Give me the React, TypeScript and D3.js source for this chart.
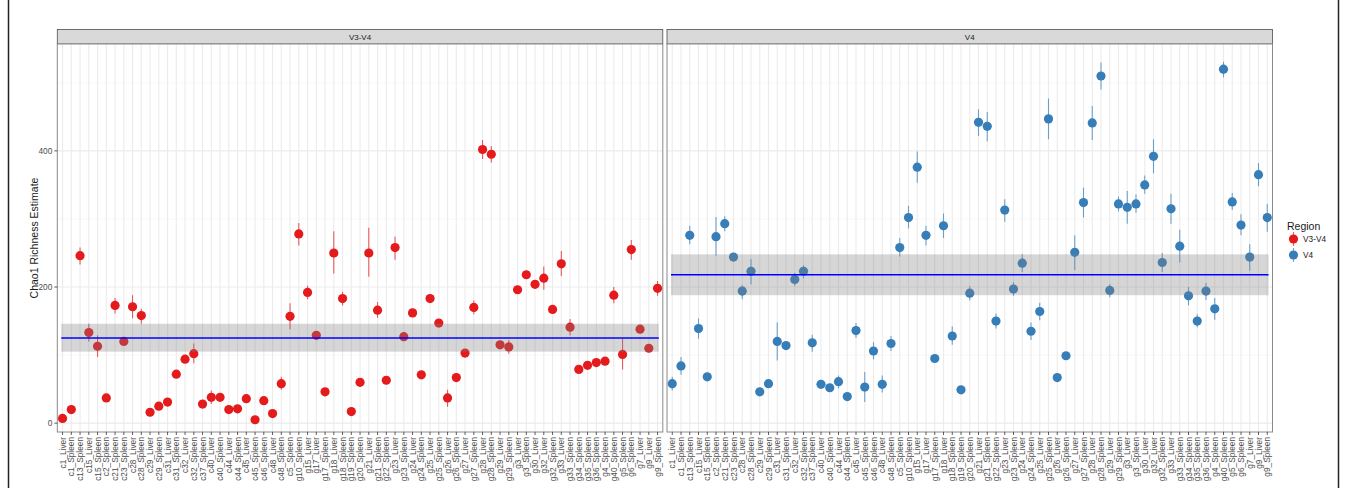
import * as d3 from 'd3';

const categories = ['c1_Liver', 'c1_Spleen', 'c13_Spleen', 'c15_Liver', 'c15_Spleen', 'c2_Spleen', 'c21_Spleen', 'c23_Spleen', 'c28_Liver', 'c28_Spleen', 'c29_Liver', 'c29_Spleen', 'c31_Liver', 'c31_Spleen', 'c32_Liver', 'c32_Spleen', 'c37_Spleen', 'c40_Liver', 'c40_Spleen', 'c44_Liver', 'c44_Spleen', 'c45_Liver', 'c45_Spleen', 'c46_Spleen', 'c48_Liver', 'c48_Spleen', 'c5_Spleen', 'g10_Spleen', 'g15_Liver', 'g17_Liver', 'g17_Spleen', 'g18_Liver', 'g18_Spleen', 'g19_Spleen', 'g20_Spleen', 'g21_Liver', 'g21_Spleen', 'g22_Spleen', 'g23_Liver', 'g23_Spleen', 'g24_Liver', 'g24_Spleen', 'g25_Liver', 'g25_Spleen', 'g26_Liver', 'g26_Spleen', 'g27_Liver', 'g27_Spleen', 'g28_Liver', 'g28_Spleen', 'g29_Liver', 'g29_Spleen', 'g3_Liver', 'g3_Spleen', 'g30_Liver', 'g32_Liver', 'g32_Spleen', 'g33_Liver', 'g33_Spleen', 'g34_Spleen', 'g35_Spleen', 'g36_Spleen', 'g4_Spleen', 'g40_Spleen', 'g5_Spleen', 'g6_Spleen', 'g7_Liver', 'g9_Liver', 'g9_Spleen'];

// V3-V4 region: estimate, lower, upper
const v34Est = [7, 20, 246, 133, 113, 37, 173, 120, 171, 158, 16, 25, 31, 72, 94, 102, 28, 38, 38, 20, 21, 36, 5, 33, 14, 58, 157, 278, 192, 129, 46, 250, 183, 17, 60, 250, 166, 63, 258, 127, 162, 71, 183, 147, 37, 67, 103, 170, 402, 395, 115, 112, 196, 218, 204, 213, 167, 234, 141, 79, 85, 89, 91, 188, 101, 255, 138, 110, 198];
const v34Lo = [4, 17, 233, 120, 97, 34, 161, 115, 154, 146, 13, 22, 28, 69, 91, 88, 25, 28, 35, 17, 18, 33, 2, 30, 11, 49, 138, 261, 182, 126, 43, 220, 173, 14, 57, 215, 155, 60, 240, 124, 159, 68, 180, 144, 24, 64, 100, 160, 388, 383, 112, 102, 193, 215, 201, 196, 164, 216, 129, 76, 82, 86, 88, 176, 79, 240, 135, 107, 187];
const v34Hi = [10, 23, 258, 146, 129, 40, 184, 125, 188, 168, 19, 28, 34, 75, 97, 117, 31, 48, 41, 23, 24, 39, 8, 36, 17, 68, 176, 294, 202, 132, 49, 282, 193, 20, 63, 287, 178, 66, 274, 130, 165, 74, 186, 150, 49, 70, 106, 180, 416, 407, 118, 122, 199, 221, 207, 230, 170, 253, 153, 82, 88, 92, 94, 200, 124, 269, 141, 113, 209];

// V4 region
const v4Est = [58, 84, 276, 139, 68, 274, 293, 244, 194, 223, 46, 58, 120, 114, 211, 223, 118, 57, 52, 61, 39, 136, 53, 106, 57, 117, 258, 302, 376, 276, 95, 290, 128, 49, 191, 442, 436, 150, 313, 197, 235, 135, 164, 447, 67, 99, 251, 324, 441, 510, 195, 322, 317, 322, 350, 392, 236, 315, 260, 187, 150, 194, 168, 520, 325, 291, 244, 365, 302];
const v4Lo = [48, 71, 263, 124, 65, 246, 282, 241, 182, 204, 43, 55, 92, 111, 201, 213, 105, 54, 49, 51, 36, 125, 31, 94, 45, 106, 245, 286, 353, 261, 92, 272, 115, 46, 180, 422, 414, 139, 296, 187, 222, 122, 151, 417, 64, 96, 225, 302, 416, 490, 185, 311, 293, 309, 337, 367, 222, 293, 236, 173, 141, 181, 152, 508, 313, 276, 224, 348, 281];
const v4Hi = [68, 97, 290, 154, 71, 303, 304, 247, 203, 241, 49, 61, 148, 117, 221, 232, 130, 60, 55, 70, 42, 147, 75, 119, 70, 128, 272, 319, 399, 290, 98, 308, 142, 52, 201, 461, 457, 161, 329, 207, 248, 148, 177, 477, 70, 102, 276, 346, 466, 530, 204, 333, 341, 336, 364, 417, 250, 337, 284, 200, 160, 206, 184, 531, 338, 307, 263, 382, 322];

const regions = ['V3-V4', 'V4'];
const regionColors = ['#E41A1C', '#377EB8'];
// mean line and shaded band per region
const bandMean = [125, 218];
const bandLo = [105, 188];
const bandHi = [146, 248];

const yTicks = [0, 200, 400];
const yMinor = [100, 300, 500];

const W = 1346;
const H = 488;
const FONT = '"Liberation Sans", Arial, sans-serif';

const panelTop = 44;
const panelBottom = 432;
const panelLefts = [57.3, 667];
const panelW = 605.5;

export default function App() {
  const y = d3.scaleLinear().domain([-13, 557]).range([panelBottom, panelTop]);
  const series = [
    { est: v34Est, lo: v34Lo, hi: v34Hi },
    { est: v4Est, lo: v4Lo, hi: v4Hi },
  ];

  return (
    <svg width={W} height={H} style={{ position: 'absolute', left: 0, top: 0, background: '#fff' }} fontFamily={FONT}>
      <line x1={8.5} x2={8.5} y1={0} y2={H} stroke="#222" strokeWidth={1.5} />
      <line x1={1338.5} x2={1338.5} y1={0} y2={H} stroke="#222" strokeWidth={1.5} />

      {regions.map((reg, p) => {
        const x0 = panelLefts[p];
        const x = d3.scalePoint<string>().domain(categories).range([x0, x0 + panelW]).padding(0.6);
        const s = series[p];
        const col = regionColors[p];
        return (
          <g key={reg}>
            {/* strip */}
            <rect x={x0} y={29.5} width={panelW} height={panelTop - 29.5} fill="#D9D9D9" stroke="#4d4d4d" strokeWidth={0.8} />
            <text x={x0 + panelW / 2} y={40} textAnchor="middle" fontSize={8} fill="#1a1a1a">{reg}</text>
            {/* panel */}
            <rect x={x0} y={panelTop} width={panelW} height={panelBottom - panelTop} fill="#fff" />
            {yMinor.map(t => (
              <line key={'m' + t} x1={x0} x2={x0 + panelW} y1={y(t)} y2={y(t)} stroke="#F2F2F2" strokeWidth={0.6} />
            ))}
            {yTicks.map(t => (
              <line key={'M' + t} x1={x0} x2={x0 + panelW} y1={y(t)} y2={y(t)} stroke="#EBEBEB" strokeWidth={1.1} />
            ))}
            {categories.map(c => (
              <line key={'v' + c} x1={x(c)} x2={x(c)} y1={panelTop} y2={panelBottom} stroke="#EBEBEB" strokeWidth={1.1} />
            ))}
            {/* error bars */}
            {categories.map((c, i) => (
              <line key={'e' + c} x1={x(c)} x2={x(c)} y1={y(s.lo[i])} y2={y(s.hi[i])} stroke={col} strokeOpacity={0.7} strokeWidth={1.1} />
            ))}
            {/* points */}
            {categories.map((c, i) => (
              <circle key={'p' + c} cx={x(c)} cy={y(s.est[i])} r={4.6} fill={col} />
            ))}
            {/* band and mean */}
            <rect x={x0 + 4} y={y(bandHi[p])} width={panelW - 8} height={y(bandLo[p]) - y(bandHi[p])} fill="#7F7F7F" fillOpacity={0.32} />
            <line x1={x0 + 4} x2={x0 + panelW - 4} y1={y(bandMean[p])} y2={y(bandMean[p])} stroke="#0000FF" strokeWidth={1.6} />
            <rect x={x0} y={panelTop} width={panelW} height={panelBottom - panelTop} fill="none" stroke="#8a8a8a" strokeWidth={1} />
            {/* x axis */}
            {categories.map(c => (
              <g key={'t' + c}>
                <line x1={x(c)} x2={x(c)} y1={panelBottom} y2={panelBottom + 3} stroke="#333" strokeWidth={0.8} />
                <text transform={`translate(${x(c)! + 3},${panelBottom + 5}) rotate(-90)`} textAnchor="end" fontSize={8.3} fill="#4D4D4D">{c}</text>
              </g>
            ))}
          </g>
        );
      })}

      {/* y axis */}
      {yTicks.map(t => (
        <g key={'yt' + t}>
          <line x1={panelLefts[0] - 3} x2={panelLefts[0]} y1={y(t)} y2={y(t)} stroke="#333" strokeWidth={0.8} />
          <text x={panelLefts[0] - 5} y={y(t) + 3} textAnchor="end" fontSize={8.3} fill="#4D4D4D">{t}</text>
        </g>
      ))}
      <text transform={`translate(38,${(panelTop + panelBottom) / 2}) rotate(-90)`} textAnchor="middle" fontSize={10.5} fill="#1a1a1a">Chao1 Richness Estimate</text>

      {/* legend */}
      <text x={1287} y={230} fontSize={10.5} fill="#1a1a1a">Region</text>
      {regions.map((reg, i) => (
        <g key={'lg' + reg}>
          <line x1={1293.5} x2={1293.5} y1={232 + i * 16} y2={246 + i * 16} stroke={regionColors[i]} strokeOpacity={0.7} strokeWidth={1.1} />
          <circle cx={1293.5} cy={239 + i * 16} r={4.6} fill={regionColors[i]} />
          <text x={1303} y={242 + i * 16} fontSize={8.3} fill="#1a1a1a">{reg}</text>
        </g>
      ))}
    </svg>
  );
}
